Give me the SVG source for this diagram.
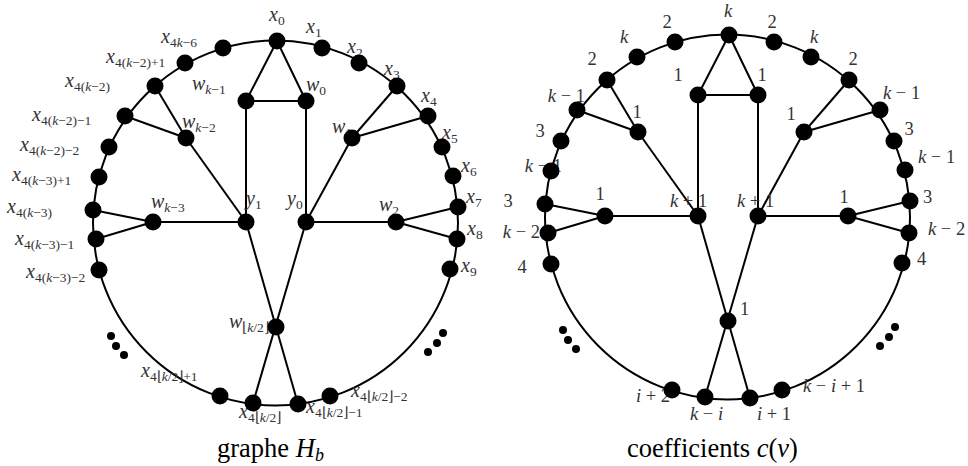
<svg xmlns="http://www.w3.org/2000/svg" width="968" height="466" viewBox="0 0 968 466">
<style>
.e{stroke:#000;stroke-width:2;fill:none}
.n{fill:#000}
.lb{font-family:"Liberation Serif",serif;font-size:20px;fill:#333}
.sub{font-size:13.5px}
.i{font-style:italic}
.c{font-family:"Liberation Serif",serif;font-size:18.5px;fill:#333}
.cap{font-family:"Liberation Serif",serif;font-size:26.5px;fill:#000}
</style>
<rect width="968" height="466" fill="#fff"/>

<!-- LEFT GRAPH -->
<g id="left-graph">
<g id="L-edges" class="e">
<circle cx="275.5" cy="223" r="182.5"/>
<line x1="277" y1="41" x2="246" y2="101"/>
<line x1="277" y1="41" x2="306" y2="101"/>
<line x1="246" y1="101" x2="306" y2="101"/>
<line x1="246" y1="101" x2="246" y2="222"/>
<line x1="306" y1="101" x2="306" y2="222"/>
<line x1="397" y1="86" x2="352" y2="138"/>
<line x1="428" y1="116" x2="352" y2="138"/>
<line x1="352" y1="138" x2="306" y2="222"/>
<line x1="155" y1="86" x2="186" y2="138"/>
<line x1="125" y1="116" x2="186" y2="138"/>
<line x1="186" y1="138" x2="246" y2="222"/>
<line x1="93" y1="210" x2="153" y2="222"/>
<line x1="96" y1="239" x2="153" y2="222"/>
<line x1="153" y1="222" x2="246" y2="222"/>
<line x1="458" y1="207" x2="396" y2="222"/>
<line x1="457" y1="239" x2="396" y2="222"/>
<line x1="396" y1="222" x2="306" y2="222"/>
<line x1="246" y1="222" x2="298" y2="404"/>
<line x1="306" y1="222" x2="253" y2="403"/>
</g>

<g id="L-labels" class="lb">
<text x="269" y="21"><tspan class="i">x</tspan><tspan class="sub" dy="4">0</tspan></text>
<text x="306" y="33"><tspan class="i">x</tspan><tspan class="sub" dy="4">1</tspan></text>
<text x="347" y="53"><tspan class="i">x</tspan><tspan class="sub" dy="4">2</tspan></text>
<text x="384" y="75"><tspan class="i">x</tspan><tspan class="sub" dy="4">3</tspan></text>
<text x="421" y="102"><tspan class="i">x</tspan><tspan class="sub" dy="4">4</tspan></text>
<text x="442" y="139"><tspan class="i">x</tspan><tspan class="sub" dy="4">5</tspan></text>
<text x="461" y="172"><tspan class="i">x</tspan><tspan class="sub" dy="4">6</tspan></text>
<text x="466" y="203"><tspan class="i">x</tspan><tspan class="sub" dy="4">7</tspan></text>
<text x="467" y="235"><tspan class="i">x</tspan><tspan class="sub" dy="4">8</tspan></text>
<text x="461" y="272"><tspan class="i">x</tspan><tspan class="sub" dy="4">9</tspan></text>
<text x="161" y="43"><tspan class="i">x</tspan><tspan class="sub" dy="4">4<tspan class="i">k</tspan>−6</tspan></text>
<text x="106" y="63"><tspan class="i">x</tspan><tspan class="sub" dy="4">4(<tspan class="i">k</tspan>−2)+1</tspan></text>
<text x="65" y="87"><tspan class="i">x</tspan><tspan class="sub" dy="4">4(<tspan class="i">k</tspan>−2)</tspan></text>
<text x="32" y="121"><tspan class="i">x</tspan><tspan class="sub" dy="4">4(<tspan class="i">k</tspan>−2)−1</tspan></text>
<text x="20" y="151"><tspan class="i">x</tspan><tspan class="sub" dy="4">4(<tspan class="i">k</tspan>−2)−2</tspan></text>
<text x="12" y="181"><tspan class="i">x</tspan><tspan class="sub" dy="4">4(<tspan class="i">k</tspan>−3)+1</tspan></text>
<text x="7" y="213"><tspan class="i">x</tspan><tspan class="sub" dy="4">4(<tspan class="i">k</tspan>−3)</tspan></text>
<text x="15" y="245"><tspan class="i">x</tspan><tspan class="sub" dy="4">4(<tspan class="i">k</tspan>−3)−1</tspan></text>
<text x="26" y="278"><tspan class="i">x</tspan><tspan class="sub" dy="4">4(<tspan class="i">k</tspan>−3)−2</tspan></text>
<text x="192" y="90"><tspan class="i">w</tspan><tspan class="sub" dy="4"><tspan class="i">k</tspan>−1</tspan></text>
<text x="306" y="91"><tspan class="i">w</tspan><tspan class="sub" dy="4">0</tspan></text>
<text x="182" y="128"><tspan class="i">w</tspan><tspan class="sub" dy="4"><tspan class="i">k</tspan>−2</tspan></text>
<text x="332" y="133"><tspan class="i">w</tspan><tspan class="sub" dy="4">1</tspan></text>
<text x="151" y="208"><tspan class="i">w</tspan><tspan class="sub" dy="4"><tspan class="i">k</tspan>−3</tspan></text>
<text x="379" y="211"><tspan class="i">w</tspan><tspan class="sub" dy="4">2</tspan></text>
<text x="246" y="205"><tspan class="i">y</tspan><tspan class="sub" dy="4">1</tspan></text>
<text x="287" y="205"><tspan class="i">y</tspan><tspan class="sub" dy="4">0</tspan></text>
<text x="229" y="328"><tspan class="i">w</tspan><tspan class="sub" dy="4">⌊<tspan class="i">k</tspan>/2⌋</tspan></text>
<text x="141" y="377"><tspan class="i">x</tspan><tspan class="sub" dy="4">4⌊<tspan class="i">k</tspan>/2⌋+1</tspan></text>
<text x="239" y="418"><tspan class="i">x</tspan><tspan class="sub" dy="4">4⌊<tspan class="i">k</tspan>/2⌋</tspan></text>
<text x="306" y="413"><tspan class="i">x</tspan><tspan class="sub" dy="4">4⌊<tspan class="i">k</tspan>/2⌋−1</tspan></text>
<text x="351" y="397"><tspan class="i">x</tspan><tspan class="sub" dy="4">4⌊<tspan class="i">k</tspan>/2⌋−2</tspan></text>
</g>

<g id="L-x0" class="n"><circle cx="277" cy="41" r="8.5"/></g>
<g id="L-x1" class="n"><circle cx="322" cy="48" r="8.5"/></g>
<g id="L-x2" class="n"><circle cx="359" cy="63" r="8.5"/></g>
<g id="L-x3" class="n"><circle cx="397" cy="86" r="8.5"/></g>
<g id="L-x4" class="n"><circle cx="428" cy="116" r="8.5"/></g>
<g id="L-x5" class="n"><circle cx="442" cy="147" r="8.5"/></g>
<g id="L-x6" class="n"><circle cx="453" cy="176" r="8.5"/></g>
<g id="L-x7" class="n"><circle cx="458" cy="207" r="8.5"/></g>
<g id="L-x8" class="n"><circle cx="457" cy="239" r="8.5"/></g>
<g id="L-x9" class="n"><circle cx="450" cy="269" r="8.5"/></g>
<g id="L-x4k-6" class="n"><circle cx="223" cy="48" r="8.5"/></g>
<g id="L-x4k-2p1" class="n"><circle cx="185" cy="63" r="8.5"/></g>
<g id="L-x4k-2" class="n"><circle cx="155" cy="86" r="8.5"/></g>
<g id="L-x4k-2m1" class="n"><circle cx="125" cy="116" r="8.5"/></g>
<g id="L-x4k-2m2" class="n"><circle cx="109" cy="147" r="8.5"/></g>
<g id="L-x4k-3p1" class="n"><circle cx="99" cy="177" r="8.5"/></g>
<g id="L-x4k-3" class="n"><circle cx="93" cy="210" r="8.5"/></g>
<g id="L-x4k-3m1" class="n"><circle cx="96" cy="239" r="8.5"/></g>
<g id="L-x4k-3m2" class="n"><circle cx="99" cy="270" r="8.5"/></g>
<g id="L-xhp1" class="n"><circle cx="220" cy="396" r="8.5"/></g>
<g id="L-xh" class="n"><circle cx="253" cy="403" r="8.5"/></g>
<g id="L-xhm1" class="n"><circle cx="298" cy="404" r="8.5"/></g>
<g id="L-xhm2" class="n"><circle cx="330" cy="396" r="8.5"/></g>
<g id="L-wkm1" class="n"><circle cx="246" cy="101" r="8.5"/></g>
<g id="L-w0" class="n"><circle cx="306" cy="101" r="8.5"/></g>
<g id="L-wkm2" class="n"><circle cx="186" cy="138" r="8.5"/></g>
<g id="L-w1" class="n"><circle cx="352" cy="138" r="8.5"/></g>
<g id="L-wkm3" class="n"><circle cx="153" cy="222" r="8.5"/></g>
<g id="L-w2" class="n"><circle cx="396" cy="222" r="8.5"/></g>
<g id="L-y1" class="n"><circle cx="246" cy="222" r="8.5"/></g>
<g id="L-y0" class="n"><circle cx="306" cy="222" r="8.5"/></g>
<g id="L-wh" class="n"><circle cx="276" cy="327" r="8.5"/></g>
<g id="L-dots" class="n">
<circle cx="111" cy="336" r="4"/><circle cx="116" cy="346" r="4"/><circle cx="124" cy="355" r="4"/>
<circle cx="443" cy="333" r="4"/><circle cx="437" cy="343" r="4"/><circle cx="428" cy="352" r="4"/>
</g>
<text class="cap" x="217" y="457">graphe <tspan class="i">H</tspan><tspan class="i" font-size="18" dy="4">b</tspan></text>
</g>

<!-- RIGHT GRAPH -->
<g id="right-graph">
<g transform="translate(452,-6)">
<g id="R-edges" class="e">
<circle cx="275.5" cy="223" r="182.5"/>
<line x1="277" y1="41" x2="246" y2="101"/>
<line x1="277" y1="41" x2="306" y2="101"/>
<line x1="246" y1="101" x2="306" y2="101"/>
<line x1="246" y1="101" x2="246" y2="222"/>
<line x1="306" y1="101" x2="306" y2="222"/>
<line x1="397" y1="86" x2="352" y2="138"/>
<line x1="428" y1="116" x2="352" y2="138"/>
<line x1="352" y1="138" x2="306" y2="222"/>
<line x1="155" y1="86" x2="186" y2="138"/>
<line x1="125" y1="116" x2="186" y2="138"/>
<line x1="186" y1="138" x2="246" y2="222"/>
<line x1="93" y1="210" x2="153" y2="222"/>
<line x1="96" y1="239" x2="153" y2="222"/>
<line x1="153" y1="222" x2="246" y2="222"/>
<line x1="458" y1="207" x2="396" y2="222"/>
<line x1="457" y1="239" x2="396" y2="222"/>
<line x1="396" y1="222" x2="306" y2="222"/>
<line x1="246" y1="222" x2="298" y2="404"/>
<line x1="306" y1="222" x2="253" y2="403"/>
</g>
</g>

<g id="R-labels" class="c">
<text x="728" y="17" text-anchor="middle" class="i">k</text>
<text x="772" y="28" text-anchor="middle">2</text>
<text x="814" y="43" text-anchor="middle" class="i">k</text>
<text x="853" y="65" text-anchor="middle">2</text>
<text x="883" y="99"><tspan class="i">k</tspan> − 1</text>
<text x="909" y="135" text-anchor="middle">3</text>
<text x="918" y="163"><tspan class="i">k</tspan> − 1</text>
<text x="923" y="203">3</text>
<text x="928" y="235"><tspan class="i">k</tspan> − 2</text>
<text x="917" y="265">4</text>
<text x="667" y="28" text-anchor="middle">2</text>
<text x="624" y="43" text-anchor="middle" class="i">k</text>
<text x="592" y="65" text-anchor="middle">2</text>
<text x="585" y="102" text-anchor="end"><tspan class="i">k</tspan> − 1</text>
<text x="540" y="137" text-anchor="middle">3</text>
<text x="562" y="172" text-anchor="end"><tspan class="i">k</tspan> − 1</text>
<text x="508" y="207" text-anchor="middle">3</text>
<text x="540" y="238" text-anchor="end"><tspan class="i">k</tspan> − 2</text>
<text x="522" y="273" text-anchor="middle">4</text>
<text x="678" y="81" text-anchor="middle">1</text>
<text x="762" y="81" text-anchor="middle">1</text>
<text x="637" y="118" text-anchor="middle">1</text>
<text x="791" y="120" text-anchor="middle">1</text>
<text x="600" y="200" text-anchor="middle">1</text>
<text x="844" y="203" text-anchor="middle">1</text>
<text x="670" y="207"><tspan class="i">k</tspan> + 1</text>
<text x="737" y="207"><tspan class="i">k</tspan> + 1</text>
<text x="740" y="315">1</text>
<text x="670" y="402" text-anchor="end"><tspan class="i">i</tspan> + 2</text>
<text x="690" y="420"><tspan class="i">k</tspan> − <tspan class="i">i</tspan></text>
<text x="757" y="420"><tspan class="i">i</tspan> + 1</text>
<text x="803" y="392"><tspan class="i">k</tspan> − <tspan class="i">i</tspan> + 1</text>
</g>

<g transform="translate(452,-6)">
<g id="R-x0" class="n"><circle cx="277" cy="41" r="8.5"/></g>
<g id="R-x1" class="n"><circle cx="322" cy="48" r="8.5"/></g>
<g id="R-x2" class="n"><circle cx="359" cy="63" r="8.5"/></g>
<g id="R-x3" class="n"><circle cx="397" cy="86" r="8.5"/></g>
<g id="R-x4" class="n"><circle cx="428" cy="116" r="8.5"/></g>
<g id="R-x5" class="n"><circle cx="442" cy="147" r="8.5"/></g>
<g id="R-x6" class="n"><circle cx="453" cy="176" r="8.5"/></g>
<g id="R-x7" class="n"><circle cx="458" cy="207" r="8.5"/></g>
<g id="R-x8" class="n"><circle cx="457" cy="239" r="8.5"/></g>
<g id="R-x9" class="n"><circle cx="450" cy="269" r="8.5"/></g>
<g id="R-x4k-6" class="n"><circle cx="223" cy="48" r="8.5"/></g>
<g id="R-x4k-2p1" class="n"><circle cx="185" cy="63" r="8.5"/></g>
<g id="R-x4k-2" class="n"><circle cx="155" cy="86" r="8.5"/></g>
<g id="R-x4k-2m1" class="n"><circle cx="125" cy="116" r="8.5"/></g>
<g id="R-x4k-2m2" class="n"><circle cx="109" cy="147" r="8.5"/></g>
<g id="R-x4k-3p1" class="n"><circle cx="99" cy="177" r="8.5"/></g>
<g id="R-x4k-3" class="n"><circle cx="93" cy="210" r="8.5"/></g>
<g id="R-x4k-3m1" class="n"><circle cx="96" cy="239" r="8.5"/></g>
<g id="R-x4k-3m2" class="n"><circle cx="99" cy="270" r="8.5"/></g>
<g id="R-xhp1" class="n"><circle cx="220" cy="396" r="8.5"/></g>
<g id="R-xh" class="n"><circle cx="253" cy="403" r="8.5"/></g>
<g id="R-xhm1" class="n"><circle cx="298" cy="404" r="8.5"/></g>
<g id="R-xhm2" class="n"><circle cx="330" cy="396" r="8.5"/></g>
<g id="R-wkm1" class="n"><circle cx="246" cy="101" r="8.5"/></g>
<g id="R-w0" class="n"><circle cx="306" cy="101" r="8.5"/></g>
<g id="R-wkm2" class="n"><circle cx="186" cy="138" r="8.5"/></g>
<g id="R-w1" class="n"><circle cx="352" cy="138" r="8.5"/></g>
<g id="R-wkm3" class="n"><circle cx="153" cy="222" r="8.5"/></g>
<g id="R-w2" class="n"><circle cx="396" cy="222" r="8.5"/></g>
<g id="R-y1" class="n"><circle cx="246" cy="222" r="8.5"/></g>
<g id="R-y0" class="n"><circle cx="306" cy="222" r="8.5"/></g>
<g id="R-wh" class="n"><circle cx="276" cy="327" r="8.5"/></g>
<g id="R-dots" class="n">
<circle cx="111" cy="336" r="4"/><circle cx="116" cy="346" r="4"/><circle cx="124" cy="355" r="4"/>
<circle cx="443" cy="333" r="4"/><circle cx="437" cy="343" r="4"/><circle cx="428" cy="352" r="4"/>
</g>
</g>
<text class="cap" x="627" y="457">coefficients <tspan class="i">c</tspan>(<tspan class="i">v</tspan>)</text>
</g>
</svg>
